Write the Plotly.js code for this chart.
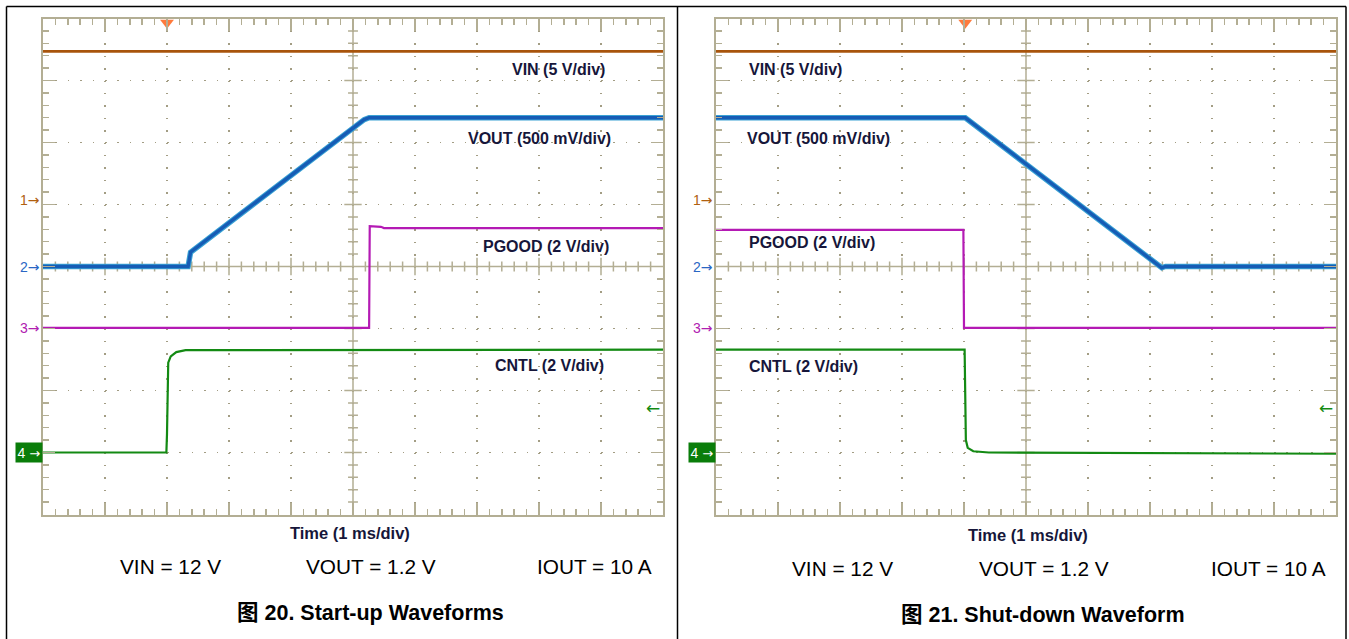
<!DOCTYPE html>
<html><head><meta charset="utf-8">
<script src="https://cdn.plot.ly/plotly-3.0.1.min.js"></script>
<style>html,body{margin:0;padding:0;background:#fff}#chart{width:1349px;height:639px}</style>
</head><body><div id="chart"></div>
<script>
// ---------------- DATA (time in ms, values in volts) ----------------
const channelNames = ['VIN', 'VOUT', 'PGOOD', 'CNTL'];
const channelLabels = ['VIN (5 V/div)', 'VOUT (500 mV/div)', 'PGOOD (2 V/div)', 'CNTL (2 V/div)'];
const voltsPerDiv = [5, 0.5, 2, 2];
const groundDiv = [1.07, 0, -0.99, -3.0];   // channel ground markers, in divisions from centre
const timeLabel = 'Time (1 ms/div)';

// 图 20 – start-up
const upVinT   = [0, 10];
const upVinV   = [12, 12];
const upVoutT  = [0, 2.34, 2.38, 5.18, 5.26, 10];
const upVoutV  = [0, 0, 0.115, 1.185, 1.2, 1.2];
const upPgoodT = [0, 5.26, 5.27, 5.45, 5.5, 10];
const upPgoodV = [0, 0, 3.28, 3.26, 3.22, 3.22];
const upCntlT  = [0, 1.99, 2.0, 2.02, 2.06, 2.15, 2.3, 10];
const upCntlV  = [0, 0, 0.6, 2.9, 3.1, 3.24, 3.3, 3.32];

// 图 21 – shut-down
const dnVinT   = [0, 10];
const dnVinV   = [12, 12];
const dnVoutT  = [0, 4.02, 7.19, 7.25, 10];
const dnVoutV  = [1.2, 1.2, -0.01, 0, 0];
const dnPgoodT = [0, 3.99, 4.0, 10];
const dnPgoodV = [3.16, 3.16, 0, 0];
const dnCntlT  = [0, 4.01, 4.03, 4.06, 4.15, 4.4, 10];
const dnCntlV  = [3.32, 3.32, 0.4, 0.15, 0.04, 0, -0.04];

const triggerT = [2.0, 4.02];

const condText = ['VIN = 12 V', 'VOUT = 1.2 V', 'IOUT = 10 A'];
const captions = ['图 20. Start-up Waveforms', '图 21. Shut-down Waveform'];

// ---------------- STYLE ----------------
const W = 1349, H = 639;
const FONT = 'Arial, "Liberation Sans", "Noto Sans CJK SC", sans-serif';
const ARROWFONT = '"DejaVu Sans", sans-serif';
const AX = '#b3ae94';
const GRID = '#a39d84';
const colVin = '#a8540c', colVout = '#165cb5', colVoutHalo = '#3aa2d4', colPg = '#b41ab4', colCn = '#138a13';
const markCols = ['#b0600f', '#2a66c4', '#b020b0', '#0a7d0a'];
const labelCol = '#16163a';

function toDiv(vals, ch) { return vals.map(v => groundDiv[ch] + v / voltsPerDiv[ch]); }

const yDom = [(H - 514.5) / H, (H - 18.5) / H];
const xDomL = [43 / W, 663 / W];
const xDomR = [716 / W, 1336 / W];

function xAxis(dom, anchor) {
  return {
    domain: dom, range: [0, 10], anchor: anchor,
    showgrid: true, gridcolor: GRID, gridwidth: 1.5, griddash: '1.5px,10.9px',
    tick0: 0, dtick: 1, ticks: 'inside', ticklen: 12, tickwidth: 1.5, tickcolor: AX,
    showline: true, linecolor: AX, linewidth: 2, mirror: 'ticks',
    showticklabels: false, zeroline: false, fixedrange: true,
    minor: { tick0: 0, dtick: 0.2, ticks: 'inside', ticklen: 6, tickwidth: 1.5, tickcolor: AX, showgrid: false }
  };
}
function yAxis(anchor) {
  return {
    domain: yDom, range: [-4, 4], anchor: anchor,
    showgrid: true, gridcolor: GRID, gridwidth: 1.5, griddash: '1.5px,10.9px',
    tick0: 0, dtick: 1, ticks: 'inside', ticklen: 12, tickwidth: 1.5, tickcolor: AX,
    showline: true, linecolor: AX, linewidth: 2, mirror: 'ticks',
    showticklabels: false, zeroline: false, fixedrange: true,
    minor: { tick0: 0, dtick: 0.2, ticks: 'inside', ticklen: 6, tickwidth: 1.5, tickcolor: AX, showgrid: false }
  };
}

function line(x, y, color, width, xa, ya) {
  return { type: 'scatter', mode: 'lines', x: x, y: y, xaxis: xa, yaxis: ya,
           line: { color: color, width: width }, hoverinfo: 'skip' };
}

const panels = [
  { xa: 'x', ya: 'y', vin: [upVinT, upVinV], vout: [upVoutT, upVoutV], pg: [upPgoodT, upPgoodV], cn: [upCntlT, upCntlV], trig: triggerT[0] },
  { xa: 'x2', ya: 'y2', vin: [dnVinT, dnVinV], vout: [dnVoutT, dnVoutV], pg: [dnPgoodT, dnPgoodV], cn: [dnCntlT, dnCntlV], trig: triggerT[1] }
];

const traces = [];
panels.forEach(p => {
  traces.push(line(p.cn[0], toDiv(p.cn[1], 3), colCn, 2.2, p.xa, p.ya));
  traces.push(line(p.pg[0], toDiv(p.pg[1], 2), colPg, 2.2, p.xa, p.ya));
  traces.push(line(p.vin[0], toDiv(p.vin[1], 0), colVin, 2.6, p.xa, p.ya));
  traces.push(line(p.vout[0], toDiv(p.vout[1], 1), colVoutHalo, 5.5, p.xa, p.ya));
  traces.push(line(p.vout[0], toDiv(p.vout[1], 1), colVout, 3.4, p.xa, p.ya));
  traces.push({ type: 'scatter', mode: 'markers', x: [p.trig], y: [3.93], xaxis: p.xa, yaxis: p.ya,
    cliponaxis: false, hoverinfo: 'skip',
    marker: { symbol: 'triangle-down', size: 12, color: '#ff7a3c', line: { width: 0 } } });
});

// centre cross with fine ticks (in division units)
function crossPath() {
  let d = 'M0,0L10,0M5,-4L5,4';
  for (let i = 1; i < 50; i++) {
    const x = i * 0.2; const h = (i % 5 === 0) ? 0.14 : 0.08;
    if (i === 25) continue;
    d += 'M' + x.toFixed(2) + ',' + (-h) + 'L' + x.toFixed(2) + ',' + h;
  }
  for (let j = 1; j < 40; j++) {
    const y = -4 + j * 0.2; const h = (j % 5 === 0) ? 0.14 : 0.08;
    if (j === 20) continue;
    d += 'M' + (5 - h) + ',' + y.toFixed(2) + 'L' + (5 + h) + ',' + y.toFixed(2);
  }
  return d;
}
const shapes = [];
panels.forEach(p => {
  shapes.push({ type: 'path', xref: p.xa, yref: p.ya, path: crossPath(), layer: 'between',
                line: { color: AX, width: 1.5 } });
});
// outer frames
const fr = { color: '#000', width: 1.5 };
shapes.push({ type: 'line', xref: 'paper', yref: 'paper', x0: 6.5 / W, x1: 1346 / W, y0: 1 - 6.5 / H, y1: 1 - 6.5 / H, line: fr });
[6.5, 677.5, 1346].forEach(px => shapes.push({ type: 'line', xref: 'paper', yref: 'paper', x0: px / W, x1: px / W, y0: 0, y1: 1 - 6.5 / H, line: fr }));

const annotations = [];
// channel labels
const labelPos = [
  [[7.53, 3.185], [6.83, 2.07], [7.06, 0.32], [7.25, -1.6]],
  [[0.5, 3.185], [0.47, 2.07], [0.5, 0.38], [0.5, -1.62]]
];
panels.forEach((p, k) => {
  channelLabels.forEach((t, c) => {
    annotations.push({ xref: p.xa, yref: p.ya, x: labelPos[k][c][0], y: labelPos[k][c][1], xanchor: 'left', yanchor: 'middle',
      text: '<b>' + t + '</b>', showarrow: false, font: { family: FONT, size: 16, color: labelCol } });
  });
  for (let c = 0; c < 3; c++) {
    annotations.push({ xref: p.xa, yref: p.ya, x: 0, y: groundDiv[c], xanchor: 'right', yanchor: 'middle', xshift: -1,
      text: String(c + 1) + '<span style="font-family:DejaVu Sans;font-size:14px">→</span>', showarrow: false,
      font: { family: FONT, size: 14, color: markCols[c] } });
  }
  annotations.push({ xref: p.xa, yref: p.ya, x: 0, y: groundDiv[3], xanchor: 'right', yanchor: 'middle',
    text: '4 <span style="font-family:DejaVu Sans;font-size:13px">→</span>', showarrow: false, bgcolor: markCols[3], borderpad: 1.5,
    font: { family: FONT, size: 14, color: '#ffffff' } });
  annotations.push({ xref: p.xa, yref: p.ya, x: 10, y: -2.28, xanchor: 'right', yanchor: 'middle', xshift: -1,
    text: '←', showarrow: false, font: { family: ARROWFONT, size: 17, color: colCn } });
});
// time labels, conditions, captions (paper coords from pixel positions)
function pa(px, py, text, size, bold) {
  annotations.push({ xref: 'paper', yref: 'paper', x: px / W, y: 1 - py / H, xanchor: 'center', yanchor: 'middle',
    text: bold ? '<b>' + text + '</b>' : text, showarrow: false,
    font: { family: FONT, size: size, color: size < 18 ? labelCol : '#000' } });
}
pa(350, 533, timeLabel, 16.5, true);
pa(1028, 535, timeLabel, 16.5, true);
[[170, 371, 594.5, 566], [842.5, 1044, 1268, 568]].forEach((r, k) => {
  condText.forEach((t, i) => pa(r[i], r[3], t, 20.8, false));
});
pa(370, 613, captions[0], 21.5, true);
pa(1043, 615, captions[1], 21.5, true);

const layout = {
  width: W, height: H, margin: { l: 0, r: 0, t: 0, b: 0 },
  paper_bgcolor: '#fff', plot_bgcolor: '#fff', showlegend: false,
  xaxis: xAxis(xDomL, 'y'), yaxis: yAxis('x'),
  xaxis2: xAxis(xDomR, 'y2'), yaxis2: yAxis('x2'),
  shapes: shapes, annotations: annotations, font: { family: FONT }
};

Plotly.newPlot('chart', traces, layout, { displayModeBar: false, staticPlot: true });
</script></body></html>
